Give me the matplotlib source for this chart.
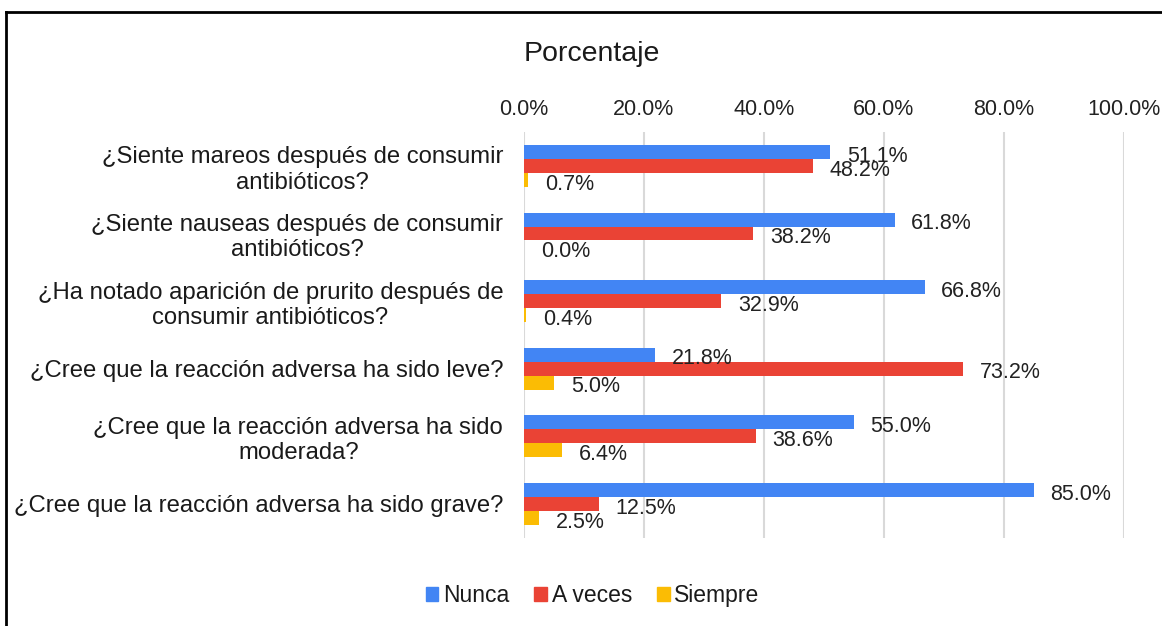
import numpy as np
import matplotlib.pyplot as plt
from matplotlib.lines import Line2D

plt.rcParams["font.family"] = ["Liberation Sans", "DejaVu Sans"]

# data
preguntas = [
    "¿Siente mareos después de consumir\nantibióticos?",
    "¿Siente nauseas después de consumir\nantibióticos?",
    "¿Ha notado aparición de prurito después de\nconsumir antibióticos?",
    "¿Cree que la reacción adversa ha sido leve?",
    "¿Cree que la reacción adversa ha sido\nmoderada?",
    "¿Cree que la reacción adversa ha sido grave?",
]
nunca = [51.1, 61.8, 66.8, 21.8, 55.0, 85.0]
a_veces = [48.2, 38.2, 32.9, 73.2, 38.6, 12.5]
siempre = [0.7, 0.0, 0.4, 5.0, 6.4, 2.5]
series_names = ["Nunca", "A veces", "Siempre"]
colores = ["#4285F4", "#EA4335", "#FBBC04"]

fig = plt.figure(figsize=(11.62, 6.26), dpi=100)
ax = fig.add_axes([0.451, 0.141, 0.516, 0.648])

y = np.arange(len(preguntas))
h = 0.207
for k, vals in enumerate([nunca, a_veces, siempre]):
    pos = y + (k - 1) * h
    ax.barh(pos, vals, height=h, color=colores[k], label=series_names[k])
    for yy, v in zip(pos, vals):
        ax.annotate(f"{v:.1f}%", (v, yy), xytext=(12, -3), textcoords="offset points",
                    ha="left", va="center", fontsize=15.5, color="#222222")

ax.set_ylim(len(preguntas) - 0.5, -0.5)
ax.set_xlim(0, 100)
ax.set_xticks(np.arange(0, 101, 20))
ax.set_xticklabels([f"{t:.1f}%" for t in np.arange(0, 101, 20)], fontsize=15.5,
                   color="#222222")
ax.xaxis.tick_top()
ax.tick_params(axis="x", length=0, pad=9)
ax.tick_params(axis="y", length=0, pad=15)
ax.set_yticks(y)
ax.set_yticklabels(preguntas, fontsize=17.2, multialignment="center", color="#1a1a1a")
ax.grid(axis="x", color="#D9D9D9", linewidth=1.5)
ax.set_axisbelow(True)
for s in ax.spines.values():
    s.set_visible(False)

fig.text(0.509, 0.914, "Porcentaje", ha="center", va="center", fontsize=20.5,
         color="#1a1a1a")

handles = [plt.Rectangle((0, 0), 1, 1, color=c) for c in colores]
fig.legend(handles, series_names, loc="center", bbox_to_anchor=(0.51, 0.048), ncol=3,
           frameon=False, fontsize=16.5, handlelength=0.55, handleheight=0.55,
           handletextpad=0.2, columnspacing=1.1, labelcolor="#1a1a1a")

# marco
fig.add_artist(Line2D([6 / 1162, 1], [1 - 12 / 626, 1 - 12 / 626], color="black", lw=2,
                      transform=fig.transFigure))
fig.add_artist(Line2D([6 / 1162, 6 / 1162], [0, 1 - 12 / 626], color="black", lw=2,
                      transform=fig.transFigure))

fig.savefig("out.png", dpi=100)
